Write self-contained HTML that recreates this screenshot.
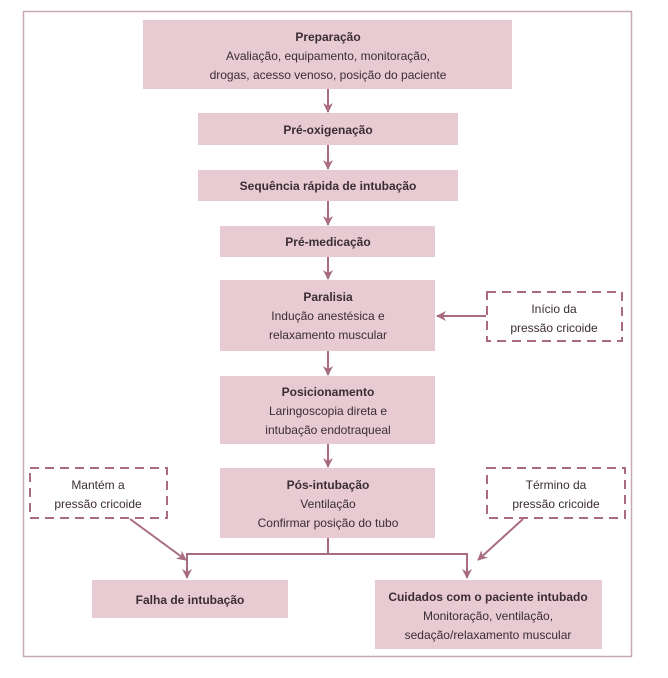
<!DOCTYPE html>
<html><head><meta charset="utf-8"><style>
html,body{margin:0;padding:0;background:#fff;}
svg{display:block;}
text{font-family:"Liberation Sans",sans-serif;font-size:12px;fill:#3a2d33;text-anchor:middle;}
.b{font-weight:bold;}
</style></head><body>
<svg width="668" height="678" viewBox="0 0 668 678" xmlns="http://www.w3.org/2000/svg">
<defs>
<marker id="a" markerWidth="10" markerHeight="10" refX="9" refY="5" orient="auto" markerUnits="userSpaceOnUse">
<path d="M0,0 L10,5 L0,10 L3,5 z" fill="#a96b80"/>
</marker>
</defs>
<rect x="23.5" y="11.5" width="608" height="645" fill="none" stroke="#c9a9b4" stroke-width="1.5"/>
<g fill="#e8cad3">
<rect x="143" y="20" width="369" height="69"/>
<rect x="198" y="113" width="260" height="32"/>
<rect x="198" y="170" width="260" height="31"/>
<rect x="220" y="226" width="215" height="31"/>
<rect x="220" y="280" width="215" height="71"/>
<rect x="220" y="376" width="215" height="68"/>
<rect x="220" y="468" width="215" height="70"/>
<rect x="92" y="580" width="196" height="38"/>
<rect x="375" y="580" width="227" height="69"/>
</g>
<g fill="none" stroke="#a96b80" stroke-width="2" stroke-dasharray="9,6">
<rect x="487" y="292" width="135" height="49"/>
<rect x="30" y="468" width="137" height="50"/>
<rect x="487" y="468" width="138" height="50"/>
</g>
<g stroke="#a96b80" stroke-width="2" fill="none">
<line x1="328" y1="89" x2="328" y2="112" marker-end="url(#a)"/>
<line x1="328" y1="145" x2="328" y2="169" marker-end="url(#a)"/>
<line x1="328" y1="201" x2="328" y2="225" marker-end="url(#a)"/>
<line x1="328" y1="257" x2="328" y2="279" marker-end="url(#a)"/>
<line x1="328" y1="351" x2="328" y2="375" marker-end="url(#a)"/>
<line x1="328" y1="444" x2="328" y2="467" marker-end="url(#a)"/>
<line x1="486" y1="316" x2="437" y2="316" marker-end="url(#a)"/>
<polyline points="328,538 328,554 187,554 187,578" marker-end="url(#a)"/>
<polyline points="328,554 467,554 467,578" marker-end="url(#a)"/>
<line x1="130" y1="519" x2="186" y2="560" marker-end="url(#a)"/>
<line x1="523" y1="519" x2="478" y2="560" marker-end="url(#a)"/>
</g>
<text x="328" y="41" class="b">Preparação</text>
<text x="328" y="60">Avaliação, equipamento, monitoração,</text>
<text x="328" y="79">drogas, acesso venoso, posição do paciente</text>
<text x="328" y="134" class="b">Pré-oxigenação</text>
<text x="328" y="190" class="b">Sequência rápida de intubação</text>
<text x="328" y="246" class="b">Pré-medicação</text>
<text x="328" y="301" class="b">Paralisia</text>
<text x="328" y="320">Indução anestésica e</text>
<text x="328" y="339">relaxamento muscular</text>
<text x="328" y="396" class="b">Posicionamento</text>
<text x="328" y="415">Laringoscopia direta e</text>
<text x="328" y="434">intubação endotraqueal</text>
<text x="328" y="489" class="b">Pós-intubação</text>
<text x="328" y="508">Ventilação</text>
<text x="328" y="527">Confirmar posição do tubo</text>
<text x="554" y="313">Início da</text>
<text x="554" y="332">pressão cricoide</text>
<text x="98" y="489">Mantém a</text>
<text x="98" y="508">pressão cricoide</text>
<text x="556" y="489">Término da</text>
<text x="556" y="508">pressão cricoide</text>
<text x="190" y="604" class="b">Falha de intubação</text>
<text x="488" y="601" class="b">Cuidados com o paciente intubado</text>
<text x="488" y="620">Monitoração, ventilação,</text>
<text x="488" y="639">sedação/relaxamento muscular</text>
</svg>
</body></html>
